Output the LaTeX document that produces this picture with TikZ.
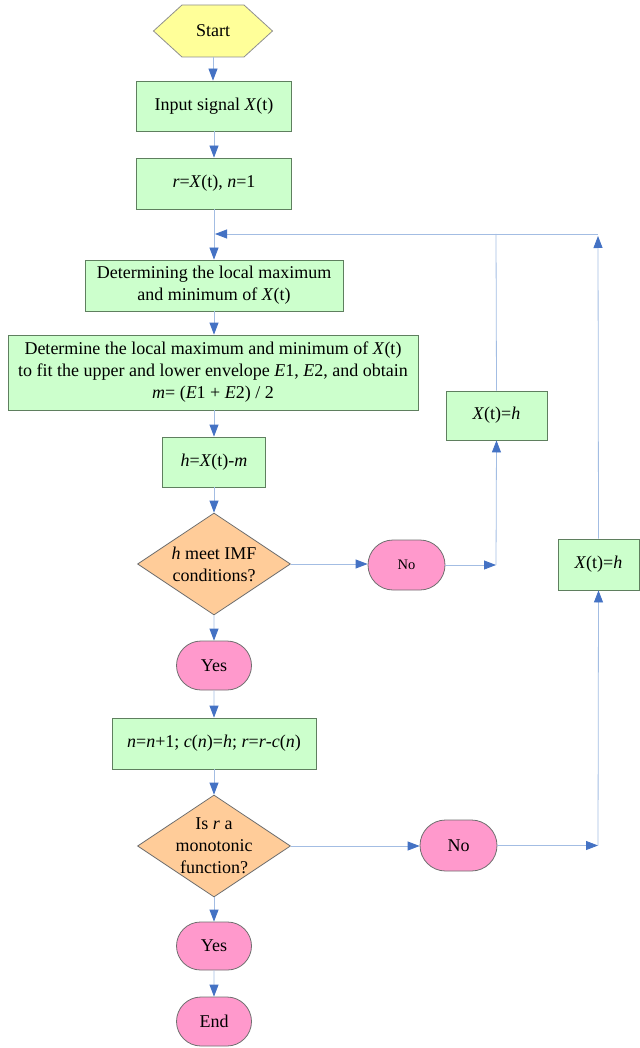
\documentclass[tikz,border=0pt]{standalone}
\usepackage{fontspec}
\setmainfont{Liberation Serif}
\usetikzlibrary{shapes.geometric,shapes.misc,arrows.meta}
\definecolor{boxfill}{HTML}{CCFFCC}
\definecolor{boxborder}{HTML}{5F7F5F}
\definecolor{ovalfill}{HTML}{FF99CC}
\definecolor{ovalborder}{HTML}{6F6F6F}
\definecolor{diafill}{HTML}{FFCC99}
\definecolor{diaborder}{HTML}{6F6F6F}
\definecolor{hexfill}{HTML}{FFFF99}
\definecolor{hexborder}{HTML}{8F8F8F}
\definecolor{linecol}{HTML}{A3BDE3}
\definecolor{arrowcol}{HTML}{4472C4}
\tikzset{
  main/.style={font=\fontsize{18}{22}\selectfont},
  box/.style={main, draw=boxborder, fill=boxfill, line width=0.8pt, inner sep=0pt, align=center, rectangle},
  ovalbox/.style={main, rounded rectangle, draw=ovalborder, fill=ovalfill, line width=0.8pt, minimum width=77pt, minimum height=50pt, inner sep=0pt},
  dia/.style={diamond, draw=diaborder, fill=diafill, line width=0.8pt, minimum width=153pt, minimum height=102pt, inner sep=0pt},
  diatext/.style={main, align=center, inner sep=0pt},
  arr/.style={draw=linecol, line width=0.8pt, -{Triangle[length=12pt,width=9pt,color=arrowcol]}},
  ln/.style={draw=linecol, line width=0.8pt},
}
\begin{document}
\begin{tikzpicture}[x=1pt,y=-1pt]
\useasboundingbox (0,0) rectangle (639,1048);
% start hexagon
\path[fill=hexfill, draw=hexborder, line width=0.8pt] (153.5,31) -- (182,5) -- (244,5) -- (272.5,31) -- (244,57) -- (182,57) -- cycle;
\node[main, minimum width=119pt, minimum height=52pt, inner sep=0pt] (start) at (213,31) {Start};
\node[box, minimum width=155pt, minimum height=50pt] (input) at (214,106) {Input signal \textit{X}(t)};
\node[box, minimum width=155pt, minimum height=51pt] (rbox) at (214,183.5) {\textit{r}=\textit{X}(t), \textit{n}=1};
\node[box, minimum width=258pt, minimum height=51pt] (det1) at (214,285.5) {Determining the local maximum\\and minimum of \textit{X}(t)};
\node[box, minimum width=410pt, minimum height=75pt] (det2) at (213,372.5) {Determine the local maximum and minimum of \textit{X}(t)\\to fit the upper and lower envelope \textit{E}1, \textit{E}2, and obtain\\\textit{m}= (\textit{E}1 + \textit{E}2) / 2};
\node[box, minimum width=103pt, minimum height=50pt] (hbox) at (214,462) {\textit{h}=\textit{X}(t)-\textit{m}};
\node[dia] (d1) at (214,564) {};
\node[diatext] (d1t) at (214,564) {\textit{h} meet IMF\\conditions?};
\node[ovalbox, font=\fontsize{14.5}{16}\selectfont] (no1) at (406.5,565) {No};
\node[box, minimum width=101pt, minimum height=49pt] (xh1) at (496.5,415.5) {\textit{X}(t)=\textit{h}};
\node[ovalbox, minimum width=75pt, minimum height=49pt] (yes1) at (214,665.5) {Yes};
\node[box, minimum width=204pt, minimum height=51pt] (nbox) at (214,743.5) {\textit{n}=\textit{n}+1; \textit{c}(\textit{n})=\textit{h}; \textit{r}=\textit{r}-\textit{c}(\textit{n})};
\node[dia] (d2) at (214,846) {};
\node[diatext] (d2t) at (214,846) {Is \textit{r} a\\monotonic\\function?};
\node[ovalbox, minimum height=51pt] (no2) at (458.5,845.5) {No};
\node[box, minimum width=81pt, minimum height=51pt] (xh2) at (598.5,564.5) {\textit{X}(t)=\textit{h}};
\node[ovalbox, minimum width=75pt, minimum height=48pt] (yes2) at (214,946) {Yes};
\node[ovalbox, minimum width=75pt, minimum height=49pt] (end) at (214,1021.5) {End};
% coordinates
\coordinate (c1) at (496,565);
\coordinate (t1) at (496,234);
\coordinate (c2) at (598,845.5);
\coordinate (t2) at (598,236);
\coordinate (t2b) at (598,234);
\coordinate (j) at (215,234);
% connectors
\draw[arr] (start.south) -- (start.south |- input.north);
\draw[arr] (input) -- (rbox);
\draw[arr] (rbox) -- (det1);
\draw[arr] (det1.south) -- (det1.south |- det2.north);
\draw[arr] (det2.south -| hbox.north) -- (hbox.north);
\draw[arr] (hbox) -- (d1);
\draw[arr] (d1) -- (yes1);
\draw[arr] (yes1) -- (nbox);
\draw[arr] (nbox) -- (d2);
\draw[arr] (d2) -- (yes2);
\draw[arr] (yes2) -- (end);
\draw[arr] (d1.east) -- (d1.east -| no1.west);
\draw[arr] (no1.east) -- (c1);
\draw[arr] (c1) -- (xh1.south);
\draw[ln] (xh1.north) -- (t1);
\draw[arr] (d2.east) -- (d2.east -| no2.west);
\draw[arr] (no2.east) -- (c2);
\draw[arr] (c2) -- (xh2.south);
\draw[arr] (xh2.north) -- (t2);
\draw[arr] (t2b) -- (j);
\end{tikzpicture}
\end{document}
